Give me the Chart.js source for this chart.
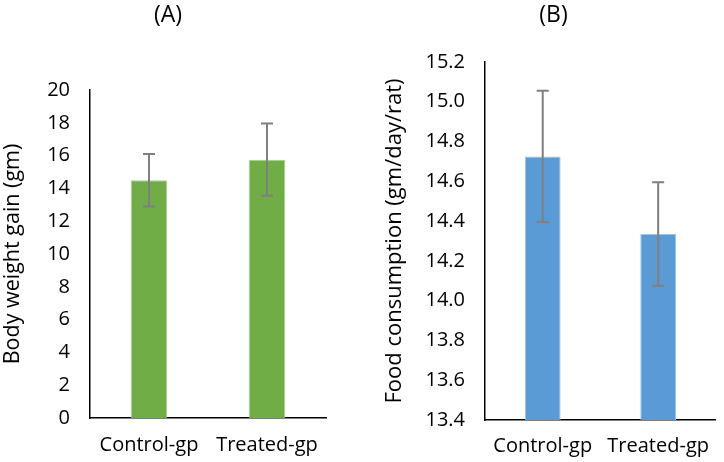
<!DOCTYPE html>
<html><head><meta charset="utf-8">
<script src="https://cdn.jsdelivr.net/npm/chart.js@4/dist/chart.umd.min.js"></script>
<style>
html,body{margin:0;padding:0;background:#fff;}
.box{position:absolute;top:0;width:362px;height:462px;}
#a{left:0;} #b{left:362px;}
</style></head><body>
<div class="box" id="a"><canvas id="ca"></canvas></div>
<div class="box" id="b"><canvas id="cb"></canvas></div>
<script>
const categories = ["Control-gp", "Treated-gp"];
const weightGain = [14.5, 15.75];
const weightGainErr = [1.6, 2.2];
const foodCons = [14.725, 14.335];
const foodConsErr = [0.33, 0.26];
const weightTicks = [0, 2, 4, 6, 8, 10, 12, 14, 16, 18, 20];
const foodTicks = [13.4, 13.6, 13.8, 14.0, 14.2, 14.4, 14.6, 14.8, 15.0, 15.2];

const FONT = "'Open Sans', sans-serif";

const errPlugin = {
  id: 'errbars',
  afterDatasetsDraw(chart, args, opts) {
    const ctx = chart.ctx;
    const meta = chart.getDatasetMeta(0);
    const ys = chart.scales.y;
    ctx.save();
    ctx.strokeStyle = '#7f7f7f';
    ctx.lineWidth = 2;
    meta.data.forEach((bar, i) => {
      const v = chart.data.datasets[0].data[i];
      const e = opts.err[i];
      const yt = ys.getPixelForValue(v + e);
      const yb = ys.getPixelForValue(v - e);
      const x = bar.x;
      ctx.beginPath();
      ctx.moveTo(x, yt); ctx.lineTo(x, yb);
      ctx.moveTo(x - 6, yt); ctx.lineTo(x + 6, yt);
      ctx.moveTo(x - 6, yb); ctx.lineTo(x + 6, yb);
      ctx.stroke();
    });
    ctx.restore();
  }
};

const labelPlugin = {
  id: 'panelLabel',
  afterDraw(chart, args, opts) {
    const ctx = chart.ctx;
    ctx.save();
    ctx.font = "23px " + FONT;
    ctx.fillStyle = '#000';
    ctx.textAlign = 'center';
    ctx.textBaseline = 'middle';
    ctx.fillText(opts.text, opts.x, opts.y);
    ctx.restore();
  }
};

function makeChart(id, values, errs, ticks, color, border, yTitle, yMin, yMax, cfg) {
  return new Chart(document.getElementById(id), {
    type: 'bar',
    data: {
      labels: categories,
      datasets: [{
        data: values,
        backgroundColor: color,
        borderColor: border,
        borderWidth: 1,
        categoryPercentage: 1,
        barPercentage: 0.31
      }]
    },
    options: {
      responsive: true,
      maintainAspectRatio: false,
      animation: false,
      layout: { padding: { left: cfg.padLeft, right: cfg.padRight, top: cfg.padTop, bottom: 0 } },
      plugins: {
        legend: { display: false },
        tooltip: { enabled: false },
        errbars: { err: errs },
        panelLabel: { text: cfg.label, x: cfg.labelX, y: 15 }
      },
      scales: {
        x: {
          grid: { display: false, drawTicks: false },
          border: { display: true, color: '#000', width: 1.5 },
          ticks: { color: '#000', font: { family: FONT, size: 20 }, padding: cfg.xPad, maxRotation: 0 },
          afterFit(s) { s.height = cfg.xH; }
        },
        y: {
          min: yMin, max: yMax,
          grid: { display: false, drawTicks: false },
          border: { display: true, color: '#000', width: 1.5 },
          afterBuildTicks(s) { s.ticks = ticks.map(v => ({ value: v })); },
          ticks: {
            color: '#000', font: { family: FONT, size: 20 }, padding: 20,
            callback: (v) => cfg.dec ? Number(v).toFixed(1) : String(v)
          },
          title: { display: true, text: yTitle, color: '#000', font: { family: FONT, size: cfg.titleSize }, padding: { top: cfg.titlePad, bottom: 0 } },
          afterFit(s) { s.width = cfg.yW; }
        }
      }
    },
    plugins: [errPlugin, labelPlugin]
  });
}

makeChart('ca', weightGain, weightGainErr, weightTicks, '#70AD47', '#a9d18e', 'Body weight gain (gm)', 0, 20,
  { padLeft: 0, padRight: 36, padTop: 90, xH: 44, xPad: 15, yW: 90, titlePad: 0, titleSize: 21.5, dec: false, label: '(A)', labelX: 168 });
makeChart('cb', foodCons, foodConsErr, foodTicks, '#5B9BD5', '#9dc3e6', 'Food consumption (gm/day/rat)', 13.4, 15.2,
  { padLeft: 0, padRight: 4, padTop: 62, xH: 42, xPad: 14, yW: 123, titlePad: 20, titleSize: 22, dec: true, label: '(B)', labelX: 191.5 });
</script>
</body></html>
